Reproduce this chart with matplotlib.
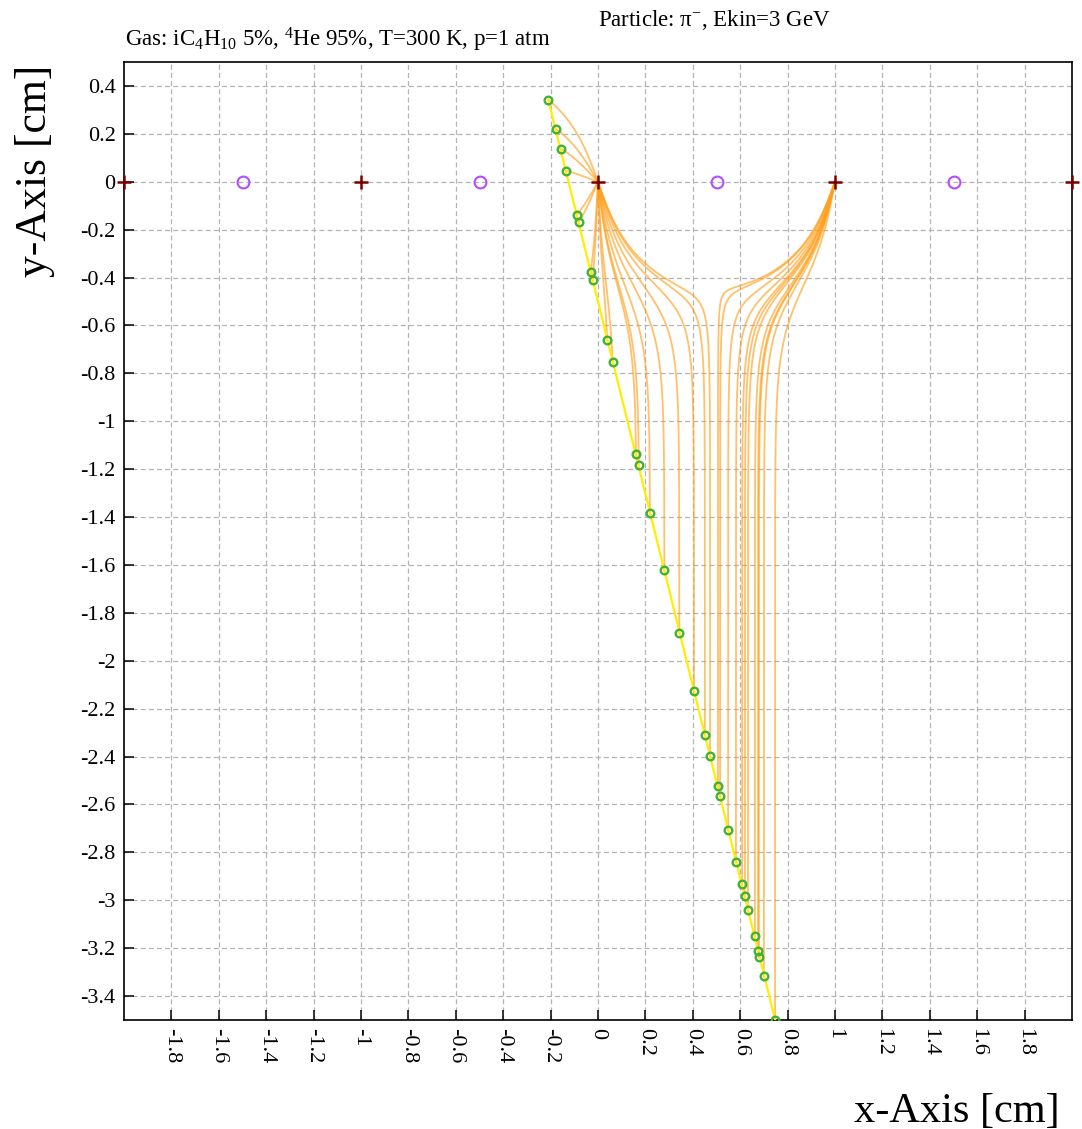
# Drift lines of an ionisation track in a wire cell (iC4H10 / He)

import cmath
import numpy as np
import matplotlib
matplotlib.use('Agg')
import matplotlib.pyplot as plt

plt.rcParams['font.family'] = ['Liberation Serif', 'DejaVu Serif']
plt.rcParams['mathtext.fontset'] = 'custom'
plt.rcParams['mathtext.rm'] = 'Liberation Serif'
plt.rcParams['mathtext.it'] = 'Liberation Serif:italic'

# wires (y = 0)
anode_x = [-2.0, -1.0, 0.0, 1.0, 2.0]
field_x = [-1.5, -0.5, 0.5, 1.5]

# track end points
track_x = [-0.210, 0.747]
track_y = [0.343, -3.498]

# ionisation clusters
cluster_x = [-0.210, -0.177, -0.157, -0.134, -0.089, -0.081, -0.030, -0.022,
             0.039, 0.062, 0.160, 0.172, 0.219, 0.280, 0.343, 0.405, 0.451,
             0.473, 0.506, 0.515, 0.549, 0.582, 0.608, 0.620, 0.633, 0.662,
             0.675, 0.679, 0.700, 0.747]
cluster_y = [0.343, 0.220, 0.138, 0.046, -0.139, -0.169, -0.375, -0.410,
             -0.660, -0.753, -1.137, -1.181, -1.385, -1.622, -1.883, -2.127,
             -2.311, -2.397, -2.523, -2.565, -2.707, -2.841, -2.933, -2.983,
             -3.042, -3.151, -3.213, -3.238, -3.318, -3.498]

# relative wire charges of the cell (anode / field wire)
ANODE_Q = 1.0
FIELD_Q = 0.77

x_ticks = np.round(np.arange(-1.8, 1.81, 0.2), 1)
y_ticks = np.round(np.arange(-3.4, 0.41, 0.2), 1)


def velocity(z):
    # direction of electron drift in the field of the periodic wire plane
    w = np.pi * z
    d = -ANODE_Q * np.pi * cmath.cos(w) / cmath.sin(w) - FIELD_Q * np.pi * cmath.tan(w)
    d = d.conjugate()
    return d / abs(d)


def drift_line(x0, y0, step=0.002):
    z = complex(x0, y0)
    xs, ys = [x0], [y0]
    for _ in range(6000):
        k1 = velocity(z)
        k2 = velocity(z + 0.5 * step * k1)
        z = z + step * k2
        xs.append(z.real)
        ys.append(z.imag)
        wire = round(z.real)
        if abs(z - wire) < 0.008:
            xs.append(wire)
            ys.append(0.0)
            break
    return xs, ys


def fmt(v):
    s = f'{v:g}'
    return '0' if s in ('0', '-0') else s


fig = plt.figure(figsize=(10.82, 11.29), dpi=100)
ax = fig.add_axes([124 / 1082, 1 - 1020 / 1129, 948 / 1082, 958 / 1129])

for x0, y0 in zip(cluster_x, cluster_y):
    xs, ys = drift_line(x0, y0)
    ax.plot(xs, ys, color='#FFA01E', alpha=0.65, lw=1.3, zorder=2)

ax.plot(track_x, track_y, color='#FFEE00', lw=1.6, zorder=3)
ax.plot(cluster_x, cluster_y, 'o', ms=5.5, mfc='none', mec='#44B03A', mew=1.7, zorder=4)
ax.plot(field_x, np.zeros(len(field_x)), 'o', ms=8.5, mfc='none', mec='#B44CFF',
        mew=1.5, zorder=5, clip_on=False)
ax.plot(anode_x, np.zeros(len(anode_x)), '+', ms=10, mec='#7A0000', mew=1.8,
        zorder=6, clip_on=False)

ax.set_xlim(-2.0, 2.0)
ax.set_ylim(-3.5, 0.5)
ax.set_xticks(x_ticks)
ax.set_xticklabels([fmt(v) for v in x_ticks], rotation=-90)
ax.set_yticks(y_ticks)
ax.set_yticklabels([fmt(v) for v in y_ticks])
ax.tick_params(direction='in', length=7, width=1.1, labelsize=16, pad=6)
ax.grid(True, color='#B4B4B4', lw=0.9, ls=(0, (4, 2.5)))
ax.set_axisbelow(True)
for sp in ax.spines.values():
    sp.set_linewidth(1.2)

fig.text(35 / 1082, 1 - 65 / 1129, 'y-Axis [cm]', rotation=90, ha='center', va='top',
         fontsize=31.5)
fig.text(1060 / 1082, 7 / 1129, 'x-Axis [cm]', ha='right', va='baseline', fontsize=30.5)
fig.text(125 / 1082, 1 - 47 / 1129, r'Gas: iC$_4$H$_{10}$ 5%, $^4$He 95%, T=300 K, p=1 atm',
         ha='left', va='baseline', fontsize=16.5)
fig.text(598 / 1082, 1 - 26 / 1129, r'Particle: π$^{-}$, Ekin=3 GeV',
         ha='left', va='baseline', fontsize=16.5)

fig.savefig('out.png', dpi=100)
plt.close()
